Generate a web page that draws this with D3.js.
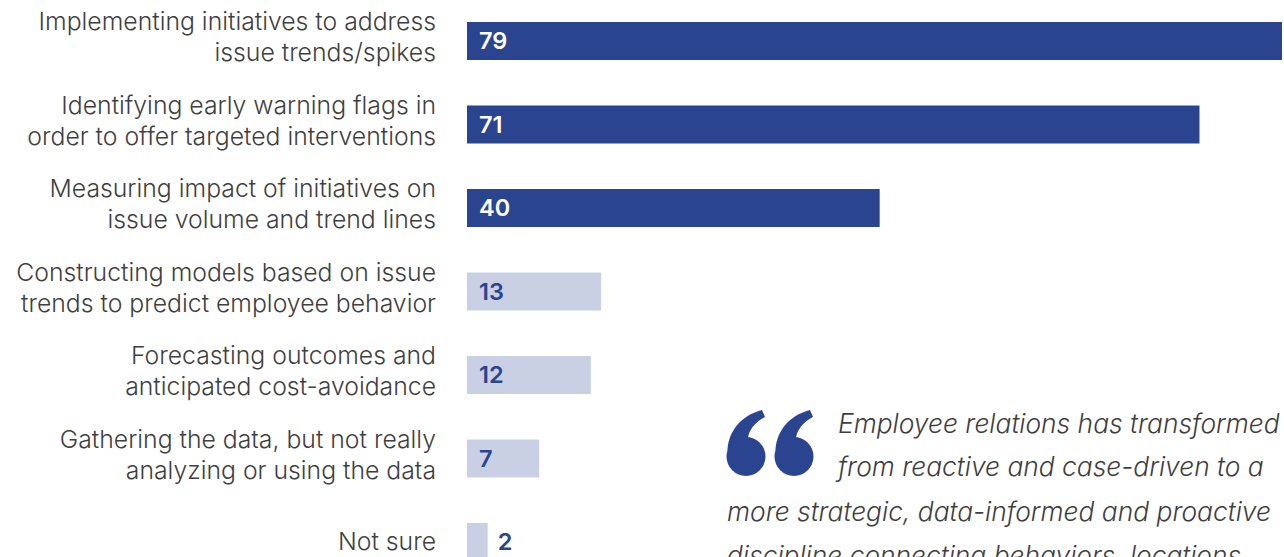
<!DOCTYPE html>
<html>
<head>
<meta charset="utf-8">
<script src="https://cdn.jsdelivr.net/npm/d3@7"></script>
<style>
  html, body { margin: 0; padding: 0; background: #fff; overflow: hidden; }
  svg { display: block; }
</style>
</head>
<body>
<svg id="chart" width="1284" height="557"></svg>
<script>
// Survey responses: how organizations use their employee-relations data (%)
const categories = [
  ["Implementing initiatives to address", "issue trends/spikes"],
  ["Identifying early warning flags in", "order to offer targeted interventions"],
  ["Measuring impact of initiatives on", "issue volume and trend lines"],
  ["Constructing models based on issue", "trends to predict employee behavior"],
  ["Forecasting outcomes and", "anticipated cost-avoidance"],
  ["Gathering the data, but not really", "analyzing or using the data"],
  ["Not sure"]
];
const values = [79, 71, 40, 13, 12, 7, 2];

const quoteLines = [
  "Employee relations has transformed",
  "from reactive and case-driven to a",
  "more strategic, data-informed and proactive",
  "discipline connecting behaviors, locations"
];

const DARK = "#2a4490";
const LIGHT = "#c9d0e3";
const TEXT = "#3f3f3f";
const FONT = "Inter, Lato, sans-serif";

const svg = d3.select("#chart");

const x = d3.scaleLinear().domain([0, 79]).range([467, 1282]);
const y = d3.scaleBand()
  .domain(d3.range(values.length))
  .range([-0.75, 583.75])
  .paddingInner(0.545)
  .paddingOuter(0.2725);

// Scale a text selection's font size so its widest line spans the given width
function fitWidth(sel, measured, target) {
  let w = 0;
  measured.each(function () { w = Math.max(w, this.getComputedTextLength()); });
  const fs = parseFloat(sel.attr("font-size"));
  sel.attr("font-size", fs * target / w);
}

// Bars
const rows = svg.append("g").selectAll("g")
  .data(values)
  .join("g");

rows.append("rect")
  .attr("x", x(0))
  .attr("y", (d, i) => y(i))
  .attr("width", d => x(d) - x(0))
  .attr("height", y.bandwidth())
  .attr("fill", (d, i) => i < 3 ? DARK : LIGHT);

// Value labels: inside the bar, or just past it when the bar is too short
rows.append("text")
  .attr("x", d => (x(d) - x(0) < 40) ? x(d) + 10 : x(0) + 12)
  .attr("y", (d, i) => y(i) + y.bandwidth() / 2 + 8)
  .attr("font-family", FONT)
  .attr("font-weight", 600)
  .attr("font-size", 23.5)
  .attr("fill", (d, i) => i < 3 ? "#ffffff" : DARK)
  .text(d => d);

// Category labels, right-aligned against the bars
const labels = svg.append("g").selectAll("text")
  .data(categories)
  .join("text")
  .attr("text-anchor", "end")
  .attr("font-family", FONT)
  .attr("font-weight", 300)
  .attr("font-size", 24)
  .attr("fill", TEXT)
  .attr("y", (d, i) => y(i) + y.bandwidth() / 2);

const lines = labels.selectAll("tspan")
  .data(d => d.map((t, k) => ({ t, k, n: d.length })))
  .join("tspan")
  .attr("x", 436)
  .attr("dy", (o) => o.k === 0 ? (o.n === 1 ? 8 : -11) : 31)
  .text(o => o.t);

// The label column is 420px wide
fitWidth(labels, lines, 420);

// Quote block
const quote = svg.append("g").attr("transform", "translate(727,410)");

// Opening quotation marks, drawn as two "6"-shaped glyphs
const mark = d3.path();
function quoteMark(p, ox) {
  p.moveTo(ox + 0.5, 45);
  p.bezierCurveTo(ox - 0.5, 24, ox + 12, 6, ox + 35, 0);
  p.lineTo(ox + 38, 7);
  p.bezierCurveTo(ox + 28, 12, ox + 22, 20, ox + 21, 28);
  p.lineTo(ox + 19, 46);
  p.closePath();
  p.moveTo(ox + 38.5, 46.5);
  p.arc(ox + 19, 46.5, 19.5, 0, Math.PI * 2);
  p.closePath();
}
quoteMark(mark, 0);
quoteMark(mark, 48);
quote.append("path").attr("d", mark.toString()).attr("fill", DARK);

const qx = [111, 111, 0, 0];
const qy = [23, 66, 111, 155];
const qText = quote.selectAll("text.q")
  .data(quoteLines)
  .join("text")
  .attr("class", "q")
  .attr("x", (d, i) => qx[i])
  .attr("y", (d, i) => qy[i])
  .attr("font-family", FONT)
  .attr("font-style", "italic")
  .attr("font-weight", 300)
  .attr("font-size", 25)
  .attr("fill", TEXT)
  .text(d => d);

// The longest quote line spans 544px
fitWidth(qText, qText, 544);
</script>
</body>
</html>
